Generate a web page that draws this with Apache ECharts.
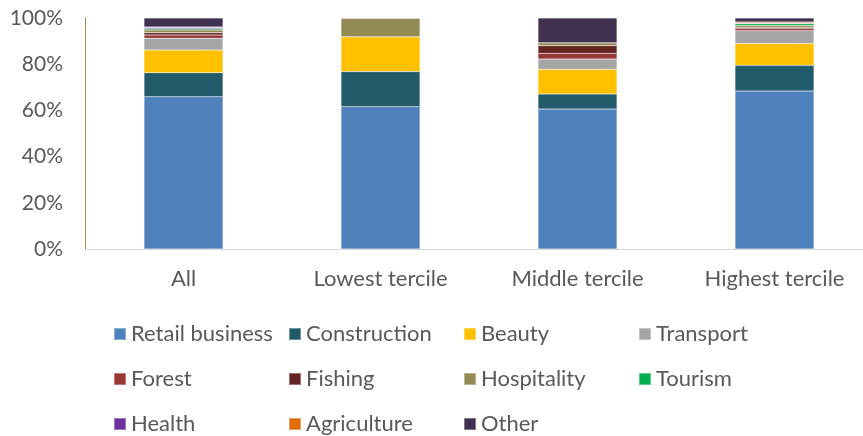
<!DOCTYPE html>
<html>
<head>
<meta charset="utf-8">
<script src="https://cdn.jsdelivr.net/npm/echarts@6/dist/echarts.min.js"></script>
<style>html,body{margin:0;padding:0;background:#fff;}#c{width:863px;height:436px;}</style>
</head>
<body>
<div id="c"></div>
<script>
const categories = ['All', 'Lowest tercile', 'Middle tercile', 'Highest tercile'];
const yTicks = [0, 20, 40, 60, 80, 100];
const retail = [65.9, 61.6, 60.6, 68.4];
const construction = [10.4, 15.2, 6.5, 11.1];
const beauty = [9.8, 15.1, 10.7, 9.5];
const transport = [5.1, 0, 4.5, 5.5];
const forest = [1.4, 0, 2.4, 0.9];
const fishing = [1.0, 0, 3.3, 0.5];
const hospitality = [1.2, 8.1, 1.3, 0.8];
const tourism = [0.5, 0, 0, 0.8];
const health = [0.6, 0, 0, 0.3];
const agriculture = [0.2, 0, 0, 0.5];
const other = [3.9, 0, 10.7, 1.7];

const seriesDefs = [
  ['Retail business', retail, '#4f81bd'],
  ['Construction', construction, '#215a68'],
  ['Beauty', beauty, '#ffc000'],
  ['Transport', transport, '#a5a5a5'],
  ['Forest', forest, '#953735'],
  ['Fishing', fishing, '#632523'],
  ['Hospitality', hospitality, '#948a54'],
  ['Tourism', tourism, '#00b050'],
  ['Health', health, '#7030a0'],
  ['Agriculture', agriculture, '#e36c09'],
  ['Other', other, '#403151']
];

const chart = echarts.init(document.getElementById('c'));
chart.setOption({
  animation: false,
  textStyle: { fontFamily: 'Lato' },
  grid: { left: 85, top: 18, width: 788, bottom: 187, containLabel: false, outerBoundsMode: 'none' },
  legend: {
    left: 108, top: 310, width: 720,
    itemWidth: 12, itemHeight: 12, itemGap: 7,
    icon: 'rect',
    data: seriesDefs.map(d => d[0]),
    textStyle: { fontFamily: 'Lato', fontSize: 22, color: '#595959', width: 150, lineHeight: 38, padding: [0,0,0,0] }
  },
  xAxis: {
    type: 'category', data: categories,
    axisLine: { lineStyle: { color: '#d9d9d9', width: 1 } },
    axisTick: { show: false },
    axisLabel: { fontSize: 22, color: '#595959', margin: 19, fontFamily: 'Lato' }
  },
  yAxis: {
    type: 'value', min: yTicks[0], max: yTicks[yTicks.length - 1], interval: 20,
    splitLine: { show: false },
    axisLine: { show: true, lineStyle: { color: '#a08c4a', width: 1 } },
    axisTick: { show: false },
    axisLabel: { fontSize: 21, color: '#595959', margin: 22, formatter: '{value}%', fontFamily: 'Lato' }
  },
  series: seriesDefs.map(d => ({
    name: d[0], type: 'bar', stack: 'total', data: d[1], barWidth: 79,
    itemStyle: { color: d[2], borderColor: 'rgba(255,255,255,0.35)', borderWidth: 0.5 }
  }))
});
</script>
</body>
</html>
